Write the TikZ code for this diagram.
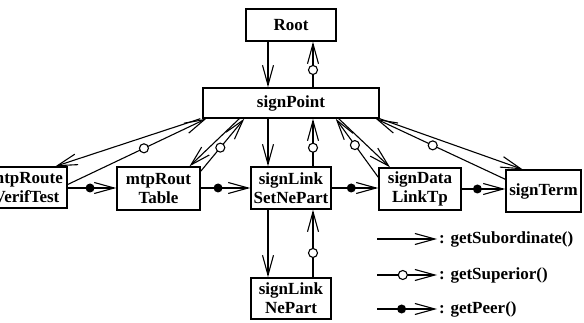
\documentclass[tikz,border=0pt]{standalone}
\usepackage{fontspec}
\setmainfont{Liberation Serif}
\usetikzlibrary{arrows.meta}
\begin{document}
\begin{tikzpicture}[x=1pt,y=-1pt,
  box/.style={draw,line width=1.4pt,align=center,inner sep=0pt,font=\fontsize{17}{19}\selectfont\bfseries},
  subarrow/.style={line width=1.1pt,-{Straight Barb[length=20pt,width=11pt,line width=1.1pt]}},
  suparrow/.style={subarrow},
  peerarrow/.style={subarrow},
  opencirc/.style={draw,line width=1.1pt,fill=white,circle,inner sep=0pt,minimum width=8pt,minimum height=9pt},
  peerdot/.style={fill,circle,inner sep=0pt,minimum size=9pt},
  legtxt/.style={anchor=west,inner sep=2pt,font=\fontsize{17}{19}\selectfont\bfseries}]
\useasboundingbox (0,0) rectangle (584,323);
\clip (0,0) rectangle (584,323);
\node[box,minimum width=90pt,minimum height=32pt] (root) at (291,25) {Root};
\node[box,minimum width=176pt,minimum height=30pt] (point) at (291,103) {signPoint};
\node[box,minimum width=81pt,minimum height=41pt] (verif) at (26.5,187.5) {mtpRoute\\VerifTest};
\node[box,minimum width=83pt,minimum height=43pt] (table) at (158.5,188.5) {mtpRout\\Table};
\node[box,minimum width=80pt,minimum height=42pt] (setne) at (291,188) {signLink\\SetNePart};
\node[box,minimum width=82pt,minimum height=42pt] (datalink) at (420,189) {signData\\LinkTp};
\node[box,minimum width=75pt,minimum height=42pt] (term) at (543.5,191) {signTerm};
\node[box,minimum width=80pt,minimum height=41pt] (nepart) at (291,298.5) {signLink\\NePart};
\draw[subarrow] ([xshift=-23pt]root.south) -- ([xshift=-23pt]point.north);
\draw[suparrow] ([xshift=22pt]point.north) -- node[pos=0.38,opencirc]{} ([xshift=22pt]root.south);
\draw[subarrow] ([xshift=-23pt]point.south) -- ([xshift=-23pt]setne.north);
\draw[suparrow] ([xshift=22pt]setne.north) -- node[pos=0.39,opencirc]{} ([xshift=22pt]point.south);
\draw[subarrow] ([xshift=-23pt]setne.south) -- ([xshift=-23pt]nepart.north);
\draw[suparrow] ([xshift=22pt]nepart.north) -- node[pos=0.36,opencirc]{} ([xshift=22pt]setne.south);
\draw[subarrow] ([xshift=-2pt]point.south west) -- ([xshift=29pt]verif.north);
\draw[suparrow] ([yshift=3pt]verif.east) -- node[pos=0.55,opencirc]{} ([xshift=4pt]point.south west);
\draw[subarrow] ([xshift=37pt]point.south west) -- ([xshift=31pt]table.north);
\draw[suparrow] ([yshift=-5pt]table.north east) -- node[pos=0.45,opencirc]{} ([xshift=42pt]point.south west);
\draw[subarrow] ([xshift=-41pt]point.south east) -- ([xshift=-30pt]datalink.north);
\draw[suparrow] ([yshift=-10pt]datalink.north west) -- node[pos=0.55,opencirc]{} ([xshift=-44pt]point.south east);
\draw[subarrow] (point.south east) -- ([xshift=-21pt]term.north);
\draw[suparrow] ([yshift=-10pt]term.north west) -- node[pos=0.56,opencirc]{} ([xshift=-4pt]point.south east);
\draw[peerarrow] (verif.east |- 0,188) -- node[pos=0.46,peerdot]{} (table.west |- 0,188);
\draw[peerarrow] (table.east |- 0,188) -- node[pos=0.35,peerdot]{} (setne.west |- 0,188);
\draw[peerarrow] (setne.east |- 0,188) -- node[pos=0.42,peerdot]{} (datalink.west |- 0,188);
\draw[peerarrow] (datalink.east |- 0,189) -- node[pos=0.36,peerdot]{} (term.west |- 0,189);
\node[legtxt] (subtxt) at (437,239) {: getSubordinate()};
\node[legtxt] (suptxt) at (437,275) {: getSuperior()};
\node[legtxt] (peertxt) at (437,309) {: getPeer()};
\coordinate (subfrom) at (377,239);
\coordinate (supfrom) at (377,275);
\coordinate (peerfrom) at (377,309);
\draw[subarrow] (subfrom) -- (subtxt.west);
\draw[suparrow] (supfrom) -- node[pos=0.43,opencirc]{} (suptxt.west);
\draw[peerarrow] (peerfrom) -- node[pos=0.41,peerdot]{} (peertxt.west);
\end{tikzpicture}
\end{document}
